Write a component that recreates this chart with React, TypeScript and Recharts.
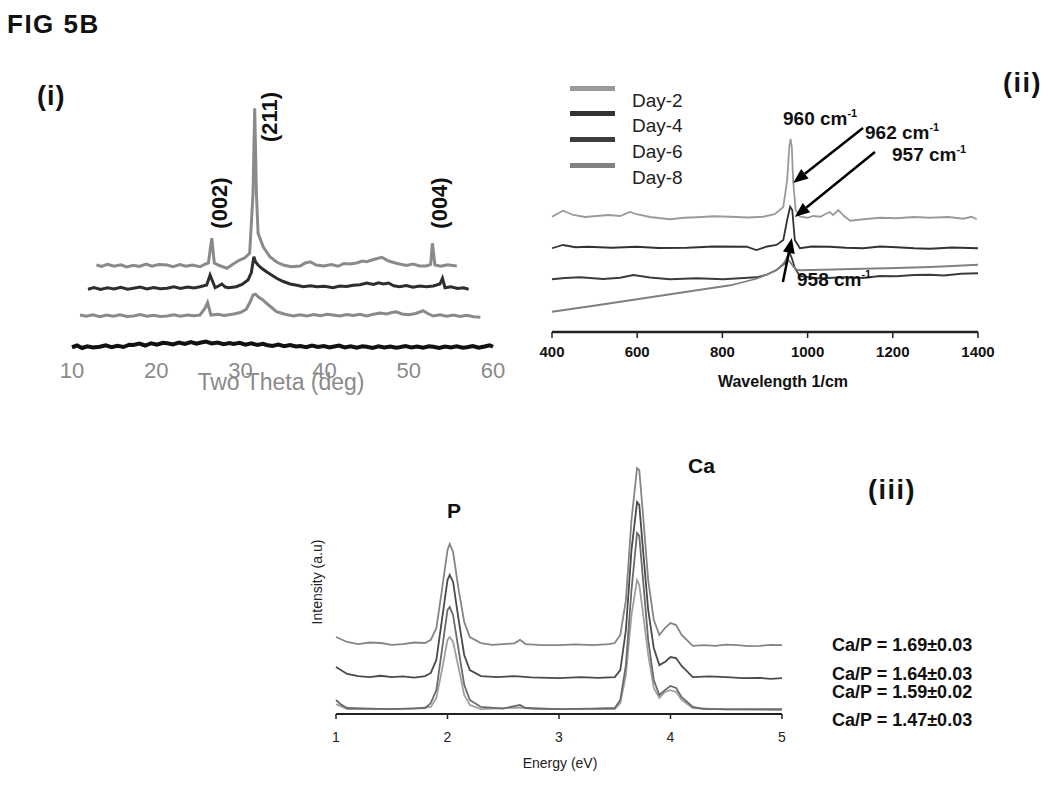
import { LineChart, Line, XAxis, YAxis, Legend, ReferenceLine } from "recharts";

// ---- panel (i) XRD, two theta vs offset intensity ----
const xrdTicks = [10, 20, 30, 40, 50, 60];
const xrdTop = [
  [12.9, 34], [13.5, 33.4], [14.2, 34.3], [15, 33.5], [15.8, 34.1], [16.5, 33.2], [17.3, 33.9], [18, 33.4],
  [18.8, 34.4], [19.5, 33.5], [20.3, 34.2], [21.3, 34], [22, 33.3], [22.8, 34.2], [23.5, 33.5], [24.3, 34],
  [25.2, 33.3], [25.8, 34.3], [26.2, 34.8], [26.6, 44.7], [26.9, 34.8], [27.5, 33.8], [28.4, 32.7], [29.2, 34.5],
  [29.9, 36], [30.5, 36.8], [31.1, 38.7], [31.5, 62.7], [31.7, 96.7], [31.9, 62.7], [32.1, 46.7], [32.7, 41.3],
  [33.5, 37.3], [34.3, 35.2], [35.1, 34], [36, 33.3], [37.1, 33.6], [37.7, 34.8], [38.3, 35.3], [39, 34],
  [39.9, 33.6], [40.8, 34.2], [41.6, 33.5], [42.3, 34.6], [43, 34.4], [43.8, 34.8], [44.5, 35.6], [45, 35.3],
  [45.8, 36.2], [46.8, 37.1], [47.6, 35.6], [48.3, 34.9], [48.9, 34.4], [49.7, 33.8], [50.5, 34.4], [51.3, 33.6],
  [52.1, 33.6], [52.6, 34.2], [52.8, 42.7], [53.1, 34], [53.8, 33.5], [54.6, 34.1], [55.7, 33.6],
];
const xrdSecond = [
  [11.9, 24.3], [12.6, 25], [13.4, 24.2], [14.2, 24.9], [15, 24.4], [15.8, 25.1], [16.6, 24.3], [17.3, 24.7],
  [18.1, 25.2], [18.9, 24.4], [19.7, 25], [20.5, 24.5], [21.3, 24.7], [22.1, 25.3], [22.9, 24.6], [23.7, 25.2],
  [24.5, 24.8], [25.2, 25.3], [26, 26], [26.4, 30], [27, 24.9], [27.4, 25.6], [27.8, 26.4], [28.2, 25.2],
  [28.6, 24.9], [29.5, 25.3], [30.2, 26.2], [30.9, 28], [31.3, 31], [31.5, 35.3], [31.6, 37.3], [31.8, 35.2],
  [32.1, 34], [32.6, 32.5], [33.1, 31.3], [33.7, 30], [34.3, 28.7], [35.1, 27.4], [35.9, 26.4], [36.7, 25.9],
  [37.5, 25.3], [38.3, 25.7], [39.1, 25.3], [40, 25.5], [41, 24.9], [41.8, 25.6], [42.6, 25.4], [43.4, 25.9],
  [44.2, 26.1], [45, 26.8], [45.8, 26.2], [46.4, 26.9], [47, 26.4], [47.6, 26.8], [48.2, 25.7], [48.9, 25.3],
  [49.7, 25.8], [50.5, 25.1], [51.3, 25.6], [52.1, 25.3], [52.9, 25.6], [53.7, 26.4], [54, 28.7], [54.3, 24.9],
  [55, 25.3], [55.8, 24.6], [56.5, 24.9], [57.1, 24.3],
];
const xrdThird = [
  [10.95, 14], [11.7, 13.5], [12.5, 14.1], [13.3, 13.3], [14.1, 14], [14.9, 13.5], [15.7, 14.1], [16.5, 13.4],
  [17.3, 13.6], [18.1, 14.2], [18.9, 13.5], [19.7, 13.9], [20.5, 13.4], [21.3, 13.6], [22.1, 14.1], [22.9, 13.5],
  [23.7, 14], [24.5, 13.7], [25.2, 14], [25.8, 16.7], [26.1, 19], [26.5, 14], [27.3, 14.3], [28.1, 13.8],
  [29.2, 14.4], [30, 15], [30.7, 16.3], [31.2, 19.5], [31.5, 22], [31.8, 22.3], [32.1, 21.3], [32.6, 20.2],
  [33.1, 18.7], [33.7, 17], [34.3, 15.3], [35.3, 14.3], [36.3, 13.6], [37.1, 14.1], [37.9, 13.6], [38.7, 14.2],
  [39.5, 13.7], [40.3, 14.3], [41, 14], [41.8, 13.6], [42.6, 14.2], [43.4, 13.8], [44.2, 14.3], [45, 13.6],
  [45.8, 14.3], [46.6, 14.8], [47.4, 14.4], [48, 15], [48.5, 15.3], [49.2, 14.4], [50, 14.1], [50.8, 14.6],
  [51.3, 15.2], [51.7, 15.7], [52.3, 14.5], [52.9, 13.6], [53.7, 14.1], [54.5, 13.5], [55.3, 14], [56.1, 13.4],
  [56.9, 13.9], [57.7, 13.3], [58.5, 13.1],
];
const xrdBottom = [
  [10, 1.1], [10.6, 1.8], [11.2, 0.8], [11.8, 1.5], [12.5, 1], [13.3, 1.3], [14, 1.9], [14.7, 1.1],
  [15.4, 1.7], [16.1, 1.2], [16.8, 2.1], [17.3, 2], [18, 2.6], [18.7, 1.8], [19.4, 2.7], [20.1, 2.1],
  [20.8, 2.9], [21.3, 2.7], [22, 2.2], [22.7, 3], [23.4, 2.4], [24.1, 3.2], [24.8, 2.5], [25.2, 2.9],
  [25.9, 3.4], [26.6, 2.6], [27.3, 3], [28, 2.3], [28.7, 2.8], [29.2, 2.4], [29.9, 2.9], [30.6, 2.1],
  [31.3, 2.7], [32, 2], [32.7, 2.5], [33.1, 2], [33.8, 1.6], [34.5, 2.2], [35.2, 1.5], [35.9, 2],
  [36.6, 1.4], [37.1, 1.6], [37.8, 1.1], [38.5, 1.8], [39.2, 1.2], [39.9, 1.6], [40.6, 1], [41, 1.3],
  [41.7, 1.8], [42.4, 1], [43.1, 1.5], [43.8, 0.9], [44.5, 1.5], [45, 1.3], [45.7, 0.8], [46.4, 1.5],
  [47.1, 1], [47.8, 1.4], [48.5, 0.9], [48.9, 1.1], [49.6, 1.6], [50.3, 1], [51, 1.4], [51.7, 0.9],
  [52.4, 1.5], [52.9, 1.3], [53.6, 0.8], [54.3, 1.4], [55, 1], [55.7, 1.5], [56.4, 0.9], [56.9, 1.1],
  [57.6, 1.6], [58.3, 0.9], [59, 1.4], [59.6, 1.9], [60, 1.3],
];

// ---- panel (ii) Raman ----
const ramanTicks = [400, 600, 800, 1000, 1200, 1400];
const ramanDay2 = [
  [400, 46.1], [426, 48.5], [450, 46.8], [478, 46], [505, 46.4], [532, 46.8], [560, 46.4], [583, 48],
  [599, 47.1], [630, 46], [655, 45.5], [677, 45.1], [710, 45.7], [740, 45.9], [780, 46.3], [818, 46.1],
  [860, 45.8], [896, 46.1], [923, 47.1], [943, 50], [952, 60.7], [957, 74], [960, 77.2], [963, 74],
  [966, 60.7], [972, 48.7], [982, 46.1], [1000, 45.7], [1013, 46.4], [1030, 46.1], [1041, 47.1], [1052, 48],
  [1060, 46.8], [1072, 48.8], [1085, 46.5], [1100, 44.5], [1131, 45.1], [1170, 45.7], [1209, 45.5], [1250, 46],
  [1287, 45.7], [1330, 46], [1365, 45.3], [1385, 46.1], [1397, 45.1],
];
const ramanDay4 = [
  [400, 33.5], [426, 34.8], [455, 33.9], [485, 34.1], [540, 33.7], [599, 34.1], [650, 33.6], [717, 33.7],
  [780, 34.2], [857, 34.1], [880, 32.8], [905, 34.2], [927, 34.8], [943, 36.8], [952, 44.8], [959, 50.1],
  [964, 48.8], [970, 36.8], [982, 33.5], [1010, 34.2], [1052, 34.1], [1090, 33.7], [1131, 33.5], [1170, 34.2],
  [1209, 33.9], [1250, 33.5], [1287, 33.3], [1340, 33.8], [1400, 33.5],
];
const ramanDay6 = [
  [400, 21.1], [430, 21.6], [466, 21.9], [520, 21.2], [560, 21.7], [591, 22.8], [630, 21.8], [677, 21.1],
  [740, 21.5], [802, 21.1], [850, 21.6], [880, 21.9], [905, 23], [927, 24.8], [947, 27.5], [957, 32.1],
  [964, 29], [970, 25.6], [982, 22.3], [1030, 21.4], [1080, 21.9], [1131, 21.6], [1170, 22.4], [1209, 22.3],
  [1250, 22.8], [1287, 22.9], [1320, 22.6], [1360, 23.3], [1400, 23.5],
];
const ramanDay8 = [
  [400, 8.1], [453, 9.4], [506, 10.7], [584, 12.7], [662, 14.7], [740, 16.7], [819, 18.7], [850, 20],
  [880, 21.3], [905, 23], [927, 24.7], [943, 27.3], [951, 29.3], [959, 28], [967, 26], [975, 24.9],
  [982, 24.7], [1060, 25], [1131, 25.3], [1210, 25.6], [1287, 26], [1340, 26.4], [1400, 26.9],
];
// arrows: [fromX, fromY, toX, toY] in data units
const ramanArrows = [
  [1130, 81.6, 966, 59.6],
  [1158, 72, 970, 46],
  [942, 20, 963, 37.6],
];

// ---- panel (iii) EDS ----
const edsTicks = [1, 2, 3, 4, 5];
const edsTop = [
  [1, 29.6], [1.1, 27.7], [1.2, 26.9], [1.3, 27.5], [1.4, 27.3], [1.5, 26.6], [1.6, 26.9], [1.7, 27.5], [1.8, 27.3],
  [1.85, 28.5], [1.9, 33], [1.95, 47.7], [2, 63], [2.02, 65.4], [2.05, 62.3], [2.1, 47.7], [2.15, 35.4], [2.2, 29.6],
  [2.3, 27.3], [2.4, 26.6], [2.5, 26.9], [2.6, 27.2], [2.65, 28.5], [2.7, 26.9], [2.85, 26.5], [3, 26.5],
  [3.15, 26.8], [3.3, 26.5], [3.45, 26.9], [3.5, 27.3], [3.55, 30.4], [3.6, 43.8], [3.65, 74.6], [3.7, 94.6],
  [3.72, 93.8], [3.75, 78.5], [3.8, 51.5], [3.85, 36.2], [3.9, 30.4], [3.95, 33], [4, 35], [4.05, 34.2],
  [4.1, 30.4], [4.2, 26.2], [4.3, 26.5], [4.4, 26.2], [4.5, 26.7], [4.6, 26.5], [4.7, 26.1], [4.8, 26.2],
  [4.9, 26.6], [5, 26.5],
];
const edsSecond = [
  [1, 18.1], [1.1, 15.4], [1.2, 14.6], [1.3, 14.2], [1.4, 14.7], [1.5, 14.2], [1.6, 14.5], [1.7, 14], [1.8, 14.6],
  [1.85, 15.8], [1.9, 20.8], [1.95, 36.2], [2, 51.5], [2.02, 53.5], [2.05, 50.8], [2.1, 36.2], [2.15, 22.7],
  [2.2, 16.9], [2.3, 14.6], [2.45, 14.2], [2.6, 14.6], [2.75, 14.1], [3, 13.8], [3.2, 14.2], [3.35, 13.9],
  [3.5, 14.2], [3.55, 16.9], [3.6, 32.3], [3.65, 63], [3.7, 81.5], [3.72, 80.4], [3.75, 65], [3.8, 40],
  [3.85, 25.4], [3.9, 18.8], [3.95, 20], [4, 21.9], [4.05, 21.5], [4.1, 18.5], [4.2, 14.2], [4.35, 14.5],
  [4.5, 14.2], [4.65, 13.8], [4.8, 13.9], [4.9, 13.5], [5, 13.8],
];
const edsThird = [
  [1, 5.4], [1.05, 3.5], [1.1, 2.3], [1.3, 2.1], [1.5, 1.9], [1.7, 2.2], [1.8, 2.3], [1.85, 4.2], [1.9, 9.2],
  [1.95, 24.6], [2, 40], [2.02, 41.2], [2.05, 38], [2.1, 24.6], [2.15, 11.2], [2.2, 5.4], [2.3, 2.7], [2.5, 2.1],
  [2.65, 3.5], [2.7, 2.3], [3, 1.9], [3.3, 2.1], [3.5, 2.3], [3.55, 5.4], [3.6, 18.8], [3.65, 47.7], [3.7, 69.6],
  [3.72, 68.5], [3.75, 53.5], [3.8, 28.5], [3.85, 13.1], [3.9, 7.3], [3.95, 9.2], [4, 10.8], [4.05, 10], [4.1, 6.5],
  [4.2, 2.7], [4.3, 1.9], [4.6, 1.9], [5, 1.9],
];
const edsBottom = [
  [1, 3.8], [1.1, 1.9], [1.4, 1.9], [1.7, 2.1], [1.85, 2.7], [1.9, 6.2], [1.95, 16.9], [2, 28.5], [2.02, 29.6],
  [2.05, 27.7], [2.1, 17.7], [2.15, 7.3], [2.2, 3.5], [2.3, 1.9], [2.65, 2.5], [2.8, 1.9], [3.2, 1.9], [3.5, 1.9],
  [3.55, 4.2], [3.6, 15], [3.65, 38], [3.7, 51.5], [3.72, 49.6], [3.75, 40], [3.8, 22.7], [3.85, 10], [3.9, 6.2],
  [3.95, 8.5], [4, 9.2], [4.05, 8.5], [4.1, 5.4], [4.2, 2.3], [4.5, 1.7], [5, 1.5],
];
const caPLabels = ["Ca/P = 1.69\u00b10.03", "Ca/P = 1.64\u00b10.03", "Ca/P = 1.59\u00b10.02", "Ca/P = 1.47\u00b10.03"];

const toPts = (arr: number[][]) => arr.map(([x, y]) => ({ x, y }));

const FONT = '"Liberation Sans", Arial, sans-serif';

const Arrow = (props: any) => {
  const { x1, y1, x2, y2 } = props;
  const a = Math.atan2(y2 - y1, x2 - x1);
  const len = 15;
  const half = 6;
  const bx = x2 - len * Math.cos(a);
  const by = y2 - len * Math.sin(a);
  const px = -Math.sin(a) * half;
  const py = Math.cos(a) * half;
  return (
    <g>
      <line x1={x1} y1={y1} x2={bx} y2={by} stroke="#000" strokeWidth={2.5} />
      <polygon points={`${x2},${y2} ${bx + px},${by + py} ${bx - px},${by - py}`} fill="#000" />
    </g>
  );
};

const RamanLegend = (props: any) => {
  const payload = props.payload || [];
  return (
    <div style={{ position: "relative", width: 130, height: 110 }}>
      {payload.map((p: any, i: number) => (
        <div key={p.value} style={{ position: "absolute", left: 0, top: i * 25.7 }}>
          <div style={{ position: "absolute", left: 0, top: 0, width: 45, height: 5, background: p.color }} />
          <div style={{ position: "absolute", left: 62, top: 5, fontSize: 19, lineHeight: "19px", color: "#222", whiteSpace: "nowrap" }}>
            {p.value}
          </div>
        </div>
      ))}
    </div>
  );
};

const abs = (left: number, top: number, extra: any = {}) => ({
  position: "absolute" as const,
  left,
  top,
  lineHeight: 1,
  whiteSpace: "nowrap" as const,
  ...extra,
});

const Cm = ({ v }: { v: string }) => (
  <span>
    {v} cm<sup style={{ fontSize: 11, verticalAlign: "top", position: "relative", top: -1 }}>-1</sup>
  </span>
);

export default function App() {
  return (
    <div style={{ position: "absolute", left: 0, top: 0, width: 1050, height: 791, background: "#fff", fontFamily: FONT, color: "#111" }}>
      <div style={abs(7, 11, { fontSize: 26, fontWeight: "bold", letterSpacing: 1.5 })}>FIG 5B</div>

      {/* (i) XRD */}
      <div style={abs(37, 83, { fontSize: 27, fontWeight: "bold", letterSpacing: 1 })}>(i)</div>
      <div style={{ position: "absolute", left: 0, top: 0 }}>
        <LineChart width={520} height={400} margin={{ top: 100, right: 27, bottom: 10, left: 72 }}>
          <XAxis
            type="number"
            dataKey="x"
            domain={[10, 60]}
            ticks={xrdTicks}
            axisLine={false}
            tickLine={false}
            tickSize={6}
            tickMargin={6}
            height={40}
            tick={{ fontSize: 22, fill: "#8a8a8a" }}
          />
          <YAxis hide type="number" domain={[0, 100]} />
          <Line data={toPts(xrdBottom)} dataKey="y" stroke="#111" strokeWidth={4} dot={false} isAnimationActive={false} />
          <Line data={toPts(xrdThird)} dataKey="y" stroke="#8a8a8a" strokeWidth={3} dot={false} isAnimationActive={false} />
          <Line data={toPts(xrdSecond)} dataKey="y" stroke="#2e2e2e" strokeWidth={3} dot={false} isAnimationActive={false} />
          <Line data={toPts(xrdTop)} dataKey="y" stroke="#8a8a8a" strokeWidth={3} dot={false} isAnimationActive={false} />
        </LineChart>
      </div>
      <div style={abs(281, 382, { fontSize: 23, color: "#8a8a8a", transform: "translate(-50%, -50%)", lineHeight: "23px" })}>Two Theta (deg)</div>
      <div style={abs(220, 203, { fontSize: 22, fontWeight: "bold", transform: "translate(-50%, -50%) rotate(-90deg)" })}>(002)</div>
      <div style={abs(270, 117, { fontSize: 22, fontWeight: "bold", transform: "translate(-50%, -50%) rotate(-90deg)" })}>(211)</div>
      <div style={abs(440, 203, { fontSize: 22, fontWeight: "bold", transform: "translate(-50%, -50%) rotate(-90deg)" })}>(004)</div>

      {/* (ii) Raman */}
      <div style={abs(1003, 70, { fontSize: 27, fontWeight: "bold", letterSpacing: 1.5 })}>(ii)</div>
      <div style={{ position: "absolute", left: 520, top: 0 }}>
        <LineChart width={500} height={400} margin={{ top: 82, right: 42, bottom: 28, left: 32 }}>
          <XAxis
            type="number"
            dataKey="x"
            domain={[400, 1400]}
            ticks={ramanTicks}
            axisLine={{ stroke: "#222", strokeWidth: 2.5 }}
            tickLine={{ stroke: "#222", strokeWidth: 1.5 }}
            tickSize={6}
            tickMargin={8}
            height={40}
            tick={{ fontSize: 15, fontWeight: "bold", fill: "#111" }}
          />
          <YAxis hide type="number" domain={[0, 100]} />
          <Legend
            layout="vertical"
            align="center"
            verticalAlign="middle"
            wrapperStyle={{ left: 50, top: 85.5, width: 130 }}
            content={<RamanLegend />}
          />
          <Line name="Day-2" data={toPts(ramanDay2)} dataKey="y" stroke="#9a9a9a" strokeWidth={1.8} dot={false} isAnimationActive={false} />
          <Line name="Day-4" data={toPts(ramanDay4)} dataKey="y" stroke="#333" strokeWidth={1.8} dot={false} isAnimationActive={false} />
          <Line name="Day-6" data={toPts(ramanDay6)} dataKey="y" stroke="#3c3c3c" strokeWidth={1.8} dot={false} isAnimationActive={false} />
          <Line name="Day-8" data={toPts(ramanDay8)} dataKey="y" stroke="#808080" strokeWidth={1.8} dot={false} isAnimationActive={false} />
          {ramanArrows.map(([x1, y1, x2, y2], i) => (
            <ReferenceLine key={i} segment={[{ x: x1, y: y1 }, { x: x2, y: y2 }]} ifOverflow="visible" shape={<Arrow />} />
          ))}
        </LineChart>
      </div>
      <div style={abs(783, 382, { fontSize: 16, fontWeight: "bold", transform: "translate(-50%, -50%)", lineHeight: "16px" })}>Wavelength 1/cm</div>
      <div style={abs(783, 109, { fontSize: 19, fontWeight: "bold" })}><Cm v="960" /></div>
      <div style={abs(865, 123, { fontSize: 19, fontWeight: "bold" })}><Cm v="962" /></div>
      <div style={abs(892, 145, { fontSize: 19, fontWeight: "bold" })}><Cm v="957" /></div>
      <div style={abs(797, 270, { fontSize: 19, fontWeight: "bold" })}><Cm v="958" /></div>

      {/* (iii) EDS */}
      <div style={abs(868, 477, { fontSize: 27, fontWeight: "bold", letterSpacing: 1.5 })}>(iii)</div>
      <div style={{ position: "absolute", left: 300, top: 430 }}>
        <LineChart width={500} height={360} margin={{ top: 24, right: 18, bottom: 46, left: 36 }}>
          <XAxis
            type="number"
            dataKey="x"
            domain={[1, 5]}
            ticks={edsTicks}
            axisLine={{ stroke: "#222", strokeWidth: 2 }}
            tickLine={{ stroke: "#222", strokeWidth: 1.5 }}
            tickSize={5}
            tickMargin={13}
            height={30}
            tick={{ fontSize: 14, fill: "#222" }}
          />
          <YAxis hide type="number" domain={[0, 100]} />
          <Line data={toPts(edsBottom)} dataKey="y" stroke="#a0a0a0" strokeWidth={1.8} dot={false} isAnimationActive={false} />
          <Line data={toPts(edsThird)} dataKey="y" stroke="#6a6a6a" strokeWidth={1.8} dot={false} isAnimationActive={false} />
          <Line data={toPts(edsSecond)} dataKey="y" stroke="#4a4a4a" strokeWidth={1.8} dot={false} isAnimationActive={false} />
          <Line data={toPts(edsTop)} dataKey="y" stroke="#858585" strokeWidth={1.8} dot={false} isAnimationActive={false} />
        </LineChart>
      </div>
      <div style={abs(560, 763, { fontSize: 14, color: "#222", transform: "translate(-50%, -50%)", lineHeight: "14px" })}>Energy (eV)</div>
      <div style={abs(317, 582, { fontSize: 14, color: "#222", transform: "translate(-50%, -50%) rotate(-90deg)", lineHeight: "14px" })}>Intensity (a.u)</div>
      <div style={abs(447, 500, { fontSize: 21, fontWeight: "bold" })}>P</div>
      <div style={abs(688, 455, { fontSize: 21, fontWeight: "bold" })}>Ca</div>
      {caPLabels.map((t, i) => (
        <div key={t} style={abs(832, [636, 665, 683, 711][i], { fontSize: 18, fontWeight: "bold" })}>{t}</div>
      ))}
    </div>
  );
}
